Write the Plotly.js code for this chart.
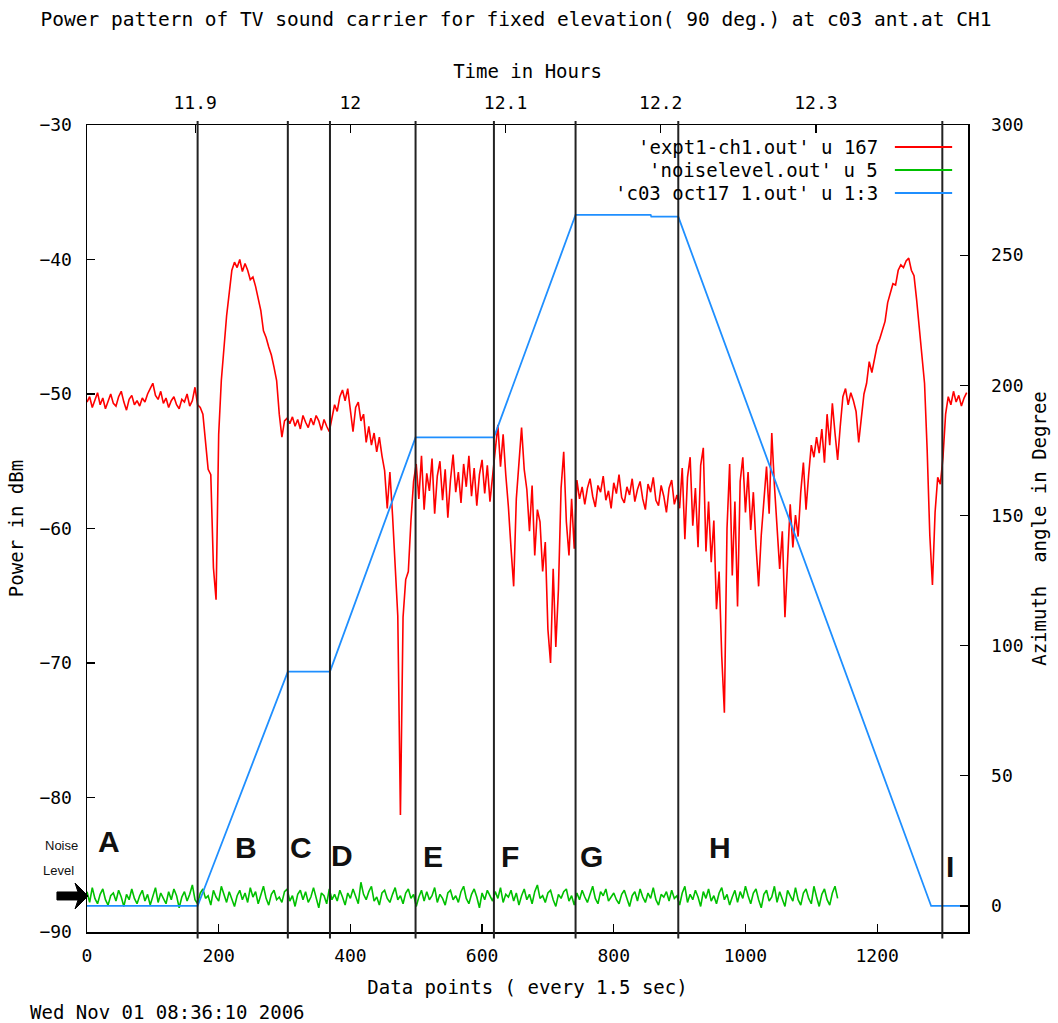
<!DOCTYPE html>
<html><head><meta charset="utf-8">
<script src="https://cdn.plot.ly/plotly-3.0.1.min.js"></script>
<style>html,body{margin:0;padding:0;background:#fff}#chart{width:1058px;height:1023px}</style>
</head><body><div id="chart"></div>
<script>
// ---------- DATA ----------
const chartTitle = "Power pattern of TV sound carrier for fixed elevation( 90 deg.) at c03 ant.at CH1";
const xTitle = "Data points ( every 1.5 sec)";
const x2Title = "Time in Hours";
const yTitle = "Power in dBm";
const y2Title = "Azimuth\u00a0\u00a0angle in Degree";
const dateStamp = "Wed Nov 01 08:36:10 2006";
const seriesNames = ["'expt1-ch1.out' u 167", "'noiselevel.out' u 5", "'c03 oct17 1.out' u 1:3"];

// red: received power, one value every 4 data points starting at 0
const redStep = 4;
const redPower = [
  // 0..164
  -50.6,-50.2,-51.0,-50.4,-49.9,-50.8,-50.3,-51.1,-50.5,-50.0,
  -50.7,-50.9,-50.2,-49.8,-50.6,-51.2,-50.4,-50.1,-50.8,-50.5,
  -50.9,-50.3,-50.6,-50.0,-49.6,-49.2,-50.1,-50.4,-49.8,-50.7,
  -50.3,-51.0,-50.5,-50.2,-50.8,-51.1,-50.4,-50.6,-50.0,-50.9,
  -50.5,-49.5,
  // 168..304
  -50.8,-51.0,-51.5,-53.4,-55.6,-56.0,-62.9,-65.3,-53.0,-49.0,
  -46.5,-44.2,-42.5,-40.8,-40.2,-40.6,-40.0,-40.9,-40.3,-40.8,
  -41.5,-41.3,-42.0,-43.0,-43.8,-45.3,-45.8,-46.5,-47.1,-48.0,
  -49.0,-51.5,-53.2,-52.0,-51.8,
  // 308..368
  -52.2,-51.7,-52.4,-51.9,-52.6,-51.6,-52.1,-52.5,-51.8,-52.3,
  -51.6,-52.0,-52.7,-51.9,-52.4,-52.8,
  // 372..496
  -51.8,-50.8,-51.3,-50.2,-49.7,-50.5,-49.6,-51.2,-52.8,-51.0,
  -50.6,-52.0,-51.5,-53.6,-52.4,-53.8,-52.9,-54.3,-53.2,-54.6,
  -55.7,-58.5,-55.8,-59.0,-62.3,-66.5,-81.3,-66.6,-63.8,-63.2,
  -59.4,-56.5,
  // 500..616
  -55.2,-57.8,-54.6,-58.6,-55.9,-57.2,-54.8,-58.9,-56.1,-55.0,
  -57.9,-55.6,-59.2,-56.4,-54.5,-57.3,-55.8,-58.1,-55.2,-56.9,
  -54.6,-57.6,-55.5,-58.3,-56.0,-54.9,-57.4,-55.3,-58.0,-56.2,
  // 620..740
  -54.0,-52.3,-55.4,-53.0,-56.0,-58.4,-61.5,-64.3,-57.8,-55.0,
  -52.5,-55.6,-57.1,-60.2,-56.8,-62.0,-58.6,-59.5,-63.2,-61.0,
  -67.5,-70.0,-63.0,-68.8,-64.5,-57.0,-54.3,-59.5,-62.0,-57.8,
  -61.5,
  // 744..896
  -56.4,-57.8,-56.9,-58.2,-57.0,-56.3,-57.6,-58.4,-56.8,-57.3,
  -56.1,-57.9,-57.2,-58.5,-56.6,-57.4,-56.0,-57.7,-58.1,-56.9,
  -57.5,-56.3,-58.0,-57.1,-56.5,-57.8,-58.6,-56.7,-57.3,-56.2,
  -57.9,-58.3,-56.8,-57.6,-58.8,-57.0,-56.4,-58.2,-57.5,
  // 900..1296
  -58.5,-55.5,-60.8,-56.2,-54.7,-59.8,-57.0,-61.4,-55.3,-54.0,
  -61.7,-58.0,-62.5,-59.4,-66.0,-63.2,-69.5,-73.7,-60.0,-55.2,
  -63.5,-58.0,-65.8,-56.5,-54.7,-58.8,-55.8,-60.1,-57.3,-61.2,
  -64.3,-60.5,-57.6,-55.4,-58.9,-52.9,-56.8,-59.7,-63.0,-60.2,
  -66.6,-62.4,-58.2,-61.4,-59.0,-60.6,-57.3,-55.1,-58.6,-56.0,
  -53.8,-54.7,-53.2,-54.4,-52.6,-55.1,-51.5,-53.8,-50.7,-52.9,
  -54.9,-52.4,-50.2,-49.6,-50.8,-49.9,-50.5,-51.3,-53.6,-51.8,
  -50.0,-49.2,-47.6,-48.4,-47.3,-46.4,-45.9,-45.2,-44.6,-43.2,
  -42.4,-41.8,-41.9,-40.8,-40.4,-40.6,-40.1,-39.9,-40.8,-41.2,
  -43.0,-45.2,-46.8,-49.2,-54.2,-60.5,-64.2,-58.8,-56.2,-56.7,
  // 1300..1336
  -54.7,-51.5,-50.2,-50.8,-49.8,-50.6,-50.1,-50.9,-50.3,-49.9
];

// green: noise level, one value every 4 data points starting at 0
const greenStep = 4;
const noisePower = [
  -87.0,-87.8,-86.7,-87.5,-87.9,-87.2,-86.8,-87.6,-88.0,-87.3,-87.1,-87.7,-86.9,-87.4,-88.1,-87.2,-87.6,-86.8,-87.5,-87.9,
  -87.3,-86.9,-87.7,-87.2,-88.0,-87.4,-86.7,-87.8,-87.1,-87.5,-87.9,-87.0,-87.6,-86.8,-87.3,-88.2,-87.4,-87.0,-87.7,-87.2,
  -86.5,-87.6,-87.9,-87.1,-86.8,-87.5,-87.3,-88.0,-86.9,-87.4,-87.7,-86.6,-87.2,-87.8,-87.0,-87.5,-88.1,-87.3,-86.9,-87.6,
  -87.1,-87.8,-86.7,-87.4,-87.0,-87.9,-87.3,-86.6,-87.5,-88.0,-87.2,-86.9,-87.6,-87.4,-87.8,-87.0,-86.8,-87.7,-87.3,-88.1,
  -87.2,-86.9,-87.6,-87.0,-87.8,-87.4,-86.7,-87.5,-88.2,-87.1,-87.3,-87.9,-86.8,-87.6,-87.2,-87.7,-86.9,-87.4,-88.0,-87.1,
  -87.5,-86.8,-87.3,-87.9,-86.3,-87.2,-87.6,-87.0,-86.6,-87.7,-87.4,-88.0,-87.1,-86.9,-87.5,-87.8,-87.2,-86.7,-87.6,-87.3,
  -87.9,-87.1,-86.8,-87.5,-87.2,-88.1,-87.4,-86.9,-87.7,-87.0,-87.6,-87.3,-86.7,-87.8,-87.2,-87.5,-88.0,-87.1,-86.9,-87.6,
  -87.3,-87.8,-87.0,-86.6,-87.5,-87.9,-87.2,-86.8,-87.4,-88.2,-87.1,-87.6,-86.9,-87.3,-87.7,-87.0,-87.5,-86.7,-87.8,-87.2,
  -87.4,-86.9,-87.7,-87.1,-88.0,-87.3,-86.8,-87.6,-87.2,-87.9,-87.0,-86.5,-87.5,-87.3,-87.8,-87.1,-86.9,-87.6,-88.1,-87.2,
  -87.5,-87.0,-86.8,-87.7,-87.3,-88.0,-87.1,-87.6,-86.9,-87.4,-87.8,-87.2,-86.6,-87.5,-87.9,-87.0,-87.3,-86.8,-87.7,-87.4,
  -87.1,-87.6,-87.9,-87.2,-86.9,-87.5,-88.1,-87.3,-87.0,-87.7,-86.8,-87.4,-87.8,-87.1,-87.5,-86.7,-87.6,-88.0,-87.2,-87.4,
  -87.0,-87.7,-86.9,-87.5,-87.3,-88.0,-87.1,-86.6,-87.8,-87.2,-87.6,-86.9,-87.4,-88.1,-87.0,-87.5,-86.8,-87.7,-87.3,-87.9,
  -87.1,-86.7,-87.6,-87.2,-88.0,-87.4,-86.9,-87.8,-87.0,-87.5,-86.6,-87.3,-87.9,-87.1,-86.8,-87.6,-88.2,-87.2,-86.9,-87.7,
  -87.4,-86.6,-87.8,-87.0,-87.5,-88.1,-86.9,-87.3,-87.7,-86.7,-87.6,-88.0,-87.1,-86.8,-87.5,-87.9,-86.6,-87.4,-88.1,-87.2,
  -86.8,-87.6,-88.0,-87.1,-86.6,-87.5
];

// blue: antenna azimuth (right axis)
const aziPoint = [0, 168, 305, 369, 499, 618, 742, 856, 857, 898, 1282, 1338];
const aziAngle = [0, 0, 90, 90, 180, 180, 265.5, 265.5, 264.8, 264.8, 0, 0];

// region boundaries and labels
const boundaries = [168, 305, 369, 499, 618, 742, 898, 1299];
const regionLabels = ['A','B','C','D','E','F','G','H','I'];
const labelPoint = [33, 241, 325, 387, 525, 642, 766, 962, 1311];
const labelPower = [-83.3, -83.7, -83.7, -84.3, -84.4, -84.4, -84.4, -83.7, -85.1];

const xRange = [0, 1338];
const xTicks = [0, 200, 400, 600, 800, 1000, 1200];
const timeRange = [11.8303, 12.398];
const timeTicks = [11.9, 12.0, 12.1, 12.2, 12.3];
const timeTickText = ['11.9', '12', '12.1', '12.2', '12.3'];
const powerRange = [-90, -30];
const powerTicks = [-90, -80, -70, -60, -50, -40, -30];
const aziRange = [-10, 300];
const aziTicks = [0, 50, 100, 150, 200, 250, 300];

// ---------- BUILD ----------
const redX = redPower.map((_, i) => i * redStep);
const greenX = noisePower.map((_, i) => i * greenStep);

const mono = 'DejaVu Sans Mono, monospace';
const RED = '#ff0000', GREEN = '#00c000', BLUE = '#1f8fff';
const colors = [RED, GREEN, BLUE];

const traces = [
  {x: redX, y: redPower, type: 'scatter', mode: 'lines', name: seriesNames[0],
   line: {color: RED, width: 1.6}, xaxis: 'x', yaxis: 'y'},
  {x: greenX, y: noisePower, type: 'scatter', mode: 'lines', name: seriesNames[1],
   line: {color: GREEN, width: 1.6}, xaxis: 'x', yaxis: 'y'},
  {x: aziPoint, y: aziAngle, type: 'scatter', mode: 'lines', name: seriesNames[2],
   line: {color: BLUE, width: 1.8}, xaxis: 'x', yaxis: 'y2'},
  {x: timeTicks, y: timeTicks.map(() => powerRange[1]), type: 'scatter', mode: 'markers',
   marker: {opacity: 0}, showlegend: false, hoverinfo: 'skip', xaxis: 'x2', yaxis: 'y'}
];

const shapes = boundaries.map(b => ({
  type: 'line', xref: 'x', yref: 'paper', x0: b, x1: b, y0: -0.008, y1: 1.005,
  line: {color: '#222', width: 2}
}));

// legend line samples (manual, gnuplot style: text then sample)
const legendRowY = [0.9727, 0.9442, 0.9157];
legendRowY.forEach((yy, i) => shapes.push({
  type: 'line', xref: 'paper', yref: 'paper', x0: 0.917, x1: 0.982, y0: yy, y1: yy,
  line: {color: colors[i], width: 2}
}));

// noise-level arrow
shapes.push({
  type: 'path', xref: 'paper', yref: 'paper',
  path: 'M -0.0341 0.0496 L -0.0102 0.0496 L -0.0136 0.0607 L 0.0011 0.0446 L -0.0136 0.0285 L -0.0102 0.0397 L -0.0341 0.0397 Z',
  fillcolor: '#000', line: {color: '#000', width: 1}
});

const annotations = [];
regionLabels.forEach((t, i) => annotations.push({
  text: t, x: labelPoint[i], y: labelPower[i], xref: 'x', yref: 'y', showarrow: false,
  font: {family: 'Liberation Sans, Arial, sans-serif', size: 30, color: '#111', weight: 700},
  xanchor: 'center', yanchor: 'middle'
}));
seriesNames.forEach((n, i) => annotations.push({
  text: n, x: 0.900, y: legendRowY[i], xref: 'paper', yref: 'paper', showarrow: false,
  xanchor: 'right', yanchor: 'middle', font: {family: mono, size: 19, color: '#000'}
}));
annotations.push({text: 'Noise', x: -0.0295, y: 0.1078, xref: 'paper', yref: 'paper', showarrow: false,
  xanchor: 'center', yanchor: 'middle', font: {family: 'Liberation Sans, Arial, sans-serif', size: 13, color: '#111'}});
annotations.push({text: 'Level', x: -0.0318, y: 0.0768, xref: 'paper', yref: 'paper', showarrow: false,
  xanchor: 'center', yanchor: 'middle', font: {family: 'Liberation Sans, Arial, sans-serif', size: 13, color: '#111'}});
annotations.push({text: dateStamp, x: -0.067, y: -0.0991, xref: 'paper', yref: 'paper', showarrow: false,
  xanchor: 'left', yanchor: 'middle', font: {family: mono, size: 19, color: '#000'}});

const axisCommon = {
  showgrid: false, zeroline: false, showline: true, linecolor: '#000', linewidth: 1.5,
  ticks: 'inside', ticklen: 8, tickwidth: 1.2, tickcolor: '#000',
  tickfont: {family: mono, size: 18, color: '#000'}
};

const layout = {
  width: 1058, height: 1023,
  margin: {l: 87, r: 90, t: 125, b: 91},
  paper_bgcolor: '#fff', plot_bgcolor: '#fff',
  showlegend: false, hovermode: false,
  title: {text: chartTitle, x: 0.4877, xanchor: 'center', y: 0.981, yanchor: 'middle',
          font: {family: mono, size: 19.5, color: '#000'}},
  xaxis: Object.assign({}, axisCommon, {range: xRange, tickvals: xTicks, ticklabelstandoff: 7,
          title: {text: xTitle, standoff: 15, font: {family: mono, size: 19, color: '#000'}}}),
  xaxis2: Object.assign({}, axisCommon, {range: timeRange, tickvals: timeTicks, ticktext: timeTickText,
          overlaying: 'x', side: 'top', ticklabelstandoff: 7,
          title: {text: x2Title, standoff: 8, font: {family: mono, size: 19, color: '#000'}}}),
  yaxis: Object.assign({}, axisCommon, {range: powerRange, tickvals: powerTicks, ticklabelstandoff: 10,
          title: {text: yTitle, standoff: 10, font: {family: mono, size: 19, color: '#000'}}}),
  yaxis2: Object.assign({}, axisCommon, {range: aziRange, tickvals: aziTicks, overlaying: 'y', side: 'right',
          ticklabelstandoff: 18,
          title: {text: y2Title, standoff: 10, font: {family: mono, size: 19, color: '#000'}}}),
  shapes: shapes,
  annotations: annotations
};

Plotly.newPlot('chart', traces, layout, {displayModeBar: false, staticPlot: true});
</script>
</body></html>
